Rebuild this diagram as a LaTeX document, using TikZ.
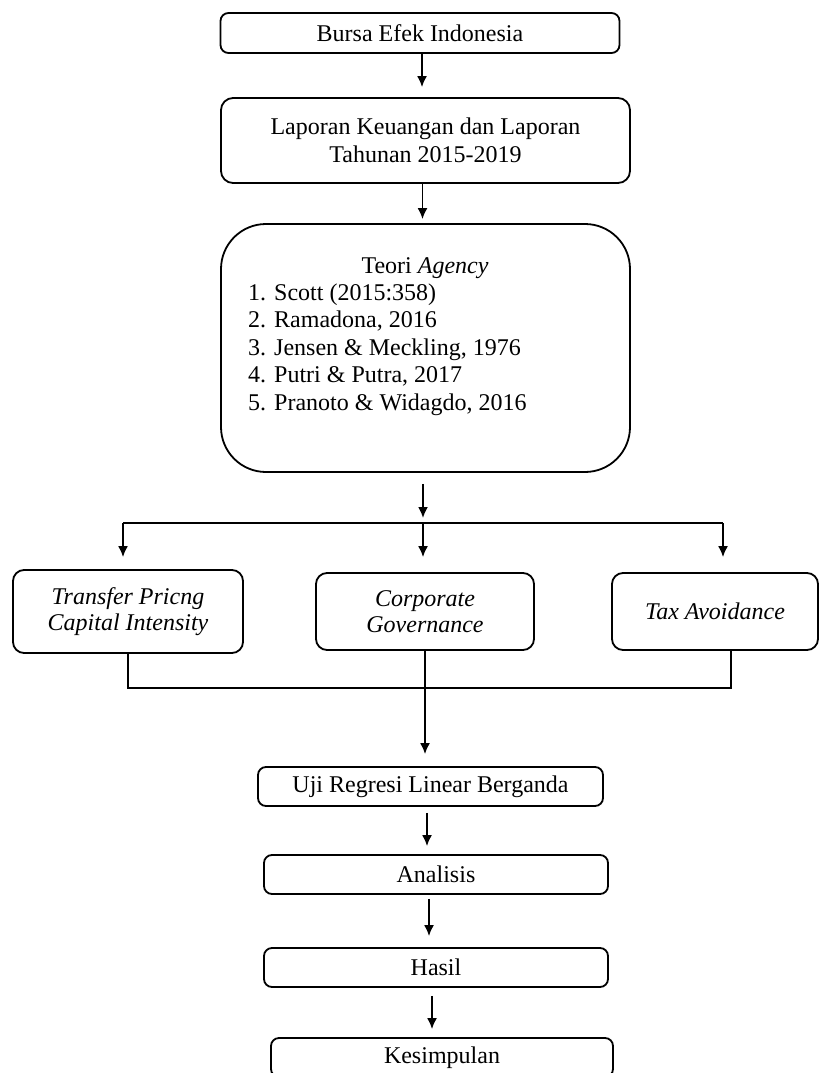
\documentclass[tikz,border=0pt]{standalone}
\usepackage{fontspec}
\setmainfont{Liberation Serif}
\usetikzlibrary{arrows.meta,calc}
\begin{document}
\begin{tikzpicture}[x=1pt,y=-1pt,
  box/.style={draw,line width=1.8pt,rounded corners=8pt,inner sep=0pt,align=center,font=\fontsize{24}{28}\selectfont},
  ibox/.style={box,rounded corners=11pt,font=\fontsize{24}{26}\selectfont\itshape},
  txt/.style={inner sep=0pt,font=\fontsize{24}{28}\selectfont},
  conn/.style={line width=1.8pt},
  arr/.style={conn,-{Latex[length=11pt,width=10pt]}}
]
\useasboundingbox (0,0) rectangle (820,1073);
\node[box,minimum width=399pt,minimum height=40pt] (b1) at (420,33) {Bursa Efek Indonesia};
\node[box,rounded corners=12pt,minimum width=409pt,minimum height=85pt] (b2) at (425.5,140.5) {Laporan Keuangan dan Laporan\\Tahunan 2015-2019};
\node[box,rounded corners=45pt,minimum width=409pt,minimum height=248pt] (b3) at (425.5,348) {};
\node[txt,anchor=base] (t0) at (425,273) {Teori \textit{Agency}};
\node[txt,anchor=base west] (t1) at (248,300) {1. Scott (2015:358)};
\node[txt,anchor=base west] (t2) at (248,327.5) {2. Ramadona, 2016};
\node[txt,anchor=base west] (t3) at (248,355) {3. Jensen \& Meckling, 1976};
\node[txt,anchor=base west] (t4) at (248,382.5) {4. Putri \& Putra, 2017};
\node[txt,anchor=base west] (t5) at (248,410) {5. Pranoto \& Widagdo, 2016};

\node[ibox,minimum width=230pt,minimum height=83pt] (b4) at (128,611.5) {Transfer Pricng\\Capital Intensity};
\node[ibox,minimum width=218pt,minimum height=77pt] (b5) at (425,611.5) {Corporate\\Governance};
\node[ibox,minimum width=206pt,minimum height=77pt] (b6) at (715,611.5) {Tax Avoidance};

\node[box,minimum width=345pt,minimum height=39pt] (b7) at (430.5,786.5) {Uji Regresi Linear Berganda};
\node[box,minimum width=344pt,minimum height=39pt] (b8) at (436,874.5) {Analisis};
\node[box,minimum width=344pt,minimum height=39pt] (b9) at (436,967.5) {Hasil};
\node[box,minimum width=342pt,minimum height=39pt] (b10) at (442,1057.5) {Kesimpulan};

\draw[arr,shorten >=10pt] ([xshift=2pt]b1.south) -- ([xshift=2pt]b1.south |- b2.north);
\draw[arr,shorten >=4pt] ([xshift=-3pt]b2.south) -- ([xshift=-3pt]b3.north);

\coordinate (split) at (423,523);
\coordinate (sl) at (123,523);
\coordinate (sr) at (723,523);
\draw[arr,shorten >=5pt,shorten <=11pt] ([xshift=-2.5pt]b3.south) -- (split);
\draw[conn] (sl) -- (sr);
\draw[arr,shorten >=12pt] (sl) -- (sl |- b4.north);
\draw[arr,shorten >=15pt] (split) -- (split |- b5.north);
\draw[arr,shorten >=15pt] (sr) -- (sr |- b6.north);

\coordinate (jl) at (128,688);
\coordinate (jm) at (425,688);
\coordinate (jr) at (731,688);
\draw[conn] (b4.south) -- (jl) -- (jr) -- (jr |- b6.south);
\draw[conn] (b5.south) -- (jm);
\draw[arr,shorten >=12pt] (jm) -- (jm |- b7.north);

\draw[arr,shorten <=6pt,shorten >=8pt] ([xshift=-3.5pt]b7.south) -- ([xshift=-3.5pt]b7.south |- b8.north);
\draw[arr,shorten <=4pt,shorten >=11pt] ([xshift=-7pt]b8.south) -- ([xshift=-7pt]b9.north);
\draw[arr,shorten <=8pt,shorten >=8pt] ([xshift=-4pt]b9.south) -- ([xshift=-4pt]b9.south |- b10.north);
\end{tikzpicture}
\end{document}
